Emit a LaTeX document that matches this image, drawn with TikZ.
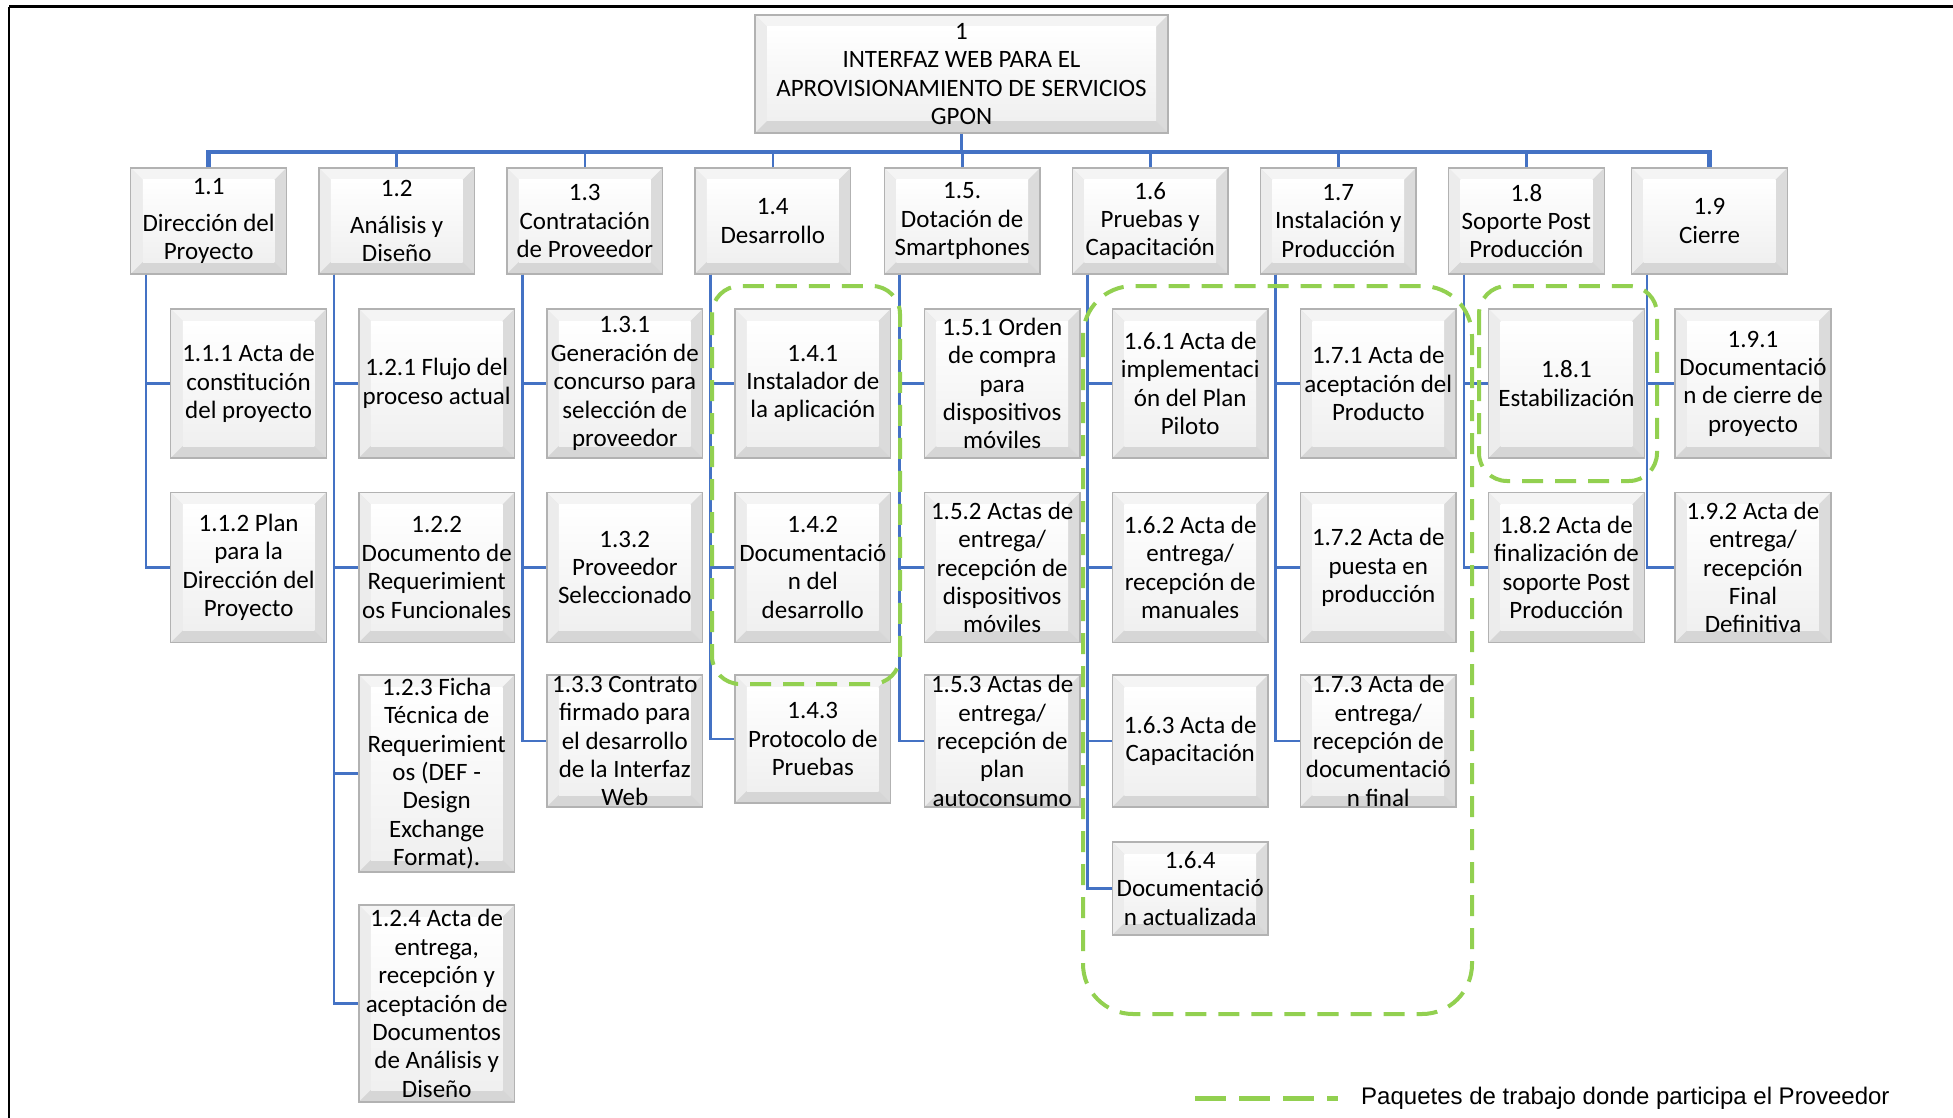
\documentclass[tikz,border=0pt]{standalone}
\usepackage{fontspec}
\setmainfont{Carlito}
\newfontfamily\legfont{Liberation Sans}
\definecolor{wbsblue}{RGB}{68,114,196}
\definecolor{wbsgreen}{RGB}{146,208,80}
\tikzset{
  wbox/.style={draw=gray!60, line width=1.4pt, fill=gray!20, inner sep=0pt, rectangle,
    path picture={
      \path (path picture bounding box.north west) coordinate (bNW)
            (path picture bounding box.north east) coordinate (bNE)
            (path picture bounding box.south east) coordinate (bSE)
            (path picture bounding box.south west) coordinate (bSW);
      \path ([shift={(12pt,-12pt)}]bNW) coordinate (iNW)
            ([shift={(-12pt,-12pt)}]bNE) coordinate (iNE)
            ([shift={(-12pt,12pt)}]bSE) coordinate (iSE)
            ([shift={(12pt,12pt)}]bSW) coordinate (iSW);
      \fill[gray!9] (bNW) -- (bNE) -- (iNE) -- (iNW) -- cycle;
      \fill[gray!15] (bNW) -- (iNW) -- (iSW) -- (bSW) -- cycle;
      \fill[gray!28] (bNE) -- (bSE) -- (iSE) -- (iNE) -- cycle;
      \fill[gray!32] (bSW) -- (iSW) -- (iSE) -- (bSE) -- cycle;
      \shade[top color=white, bottom color=gray!12] (iNW) rectangle (iSE);
    }},
  wtxt/.style={align=center, font=\fontsize{25pt}{28.4pt}\selectfont, inner sep=0pt, text=black},
  conn/.style={draw=wbsblue, line width=2.6pt},
  bus/.style={draw=wbsblue, line width=4.5pt},
  grp/.style={draw=wbsgreen, line width=4pt, dash pattern=on 21pt off 12pt},
}
\newcommand\wb[5]{\node[wbox, minimum width=#3, minimum height=#4, label={[wtxt]center:#5}] (#1) at (#2) {};}
\begin{document}
\begin{tikzpicture}[x=1pt,y=-1pt]
\useasboundingbox[fill=white] (0,0) rectangle (1953,1118);
% frame
\draw[line width=3pt] (9,7) -- (1953,7);
\draw[line width=1.3pt] (9,7) -- (9,1118);
% root
\wb{root}{961.5,74}{413pt}{118pt}{1\\INTERFAZ WEB PARA EL\\APROVISIONAMIENTO DE SERVICIOS\\GPON}
% level 1
\wb{p1}{208.6,221}{155.7pt}{106pt}{1.1\\[9pt]Dirección del\\Proyecto}
\wb{p2}{396.7,221}{155.7pt}{106pt}{1.2\\[9pt]Análisis y\\Diseño}
\wb{p3}{584.8,221}{155.7pt}{106pt}{1.3\\Contratación\\de Proveedor}
\wb{p4}{772.8,221}{155.7pt}{106pt}{1.4\\Desarrollo}
\wb{p5}{962.2,221}{155.7pt}{106pt}{1.5.\\Dotación de\\Smartphones}
\wb{p6}{1150.2,221}{155.7pt}{106pt}{1.6\\Pruebas y\\Capacitación}
\wb{p7}{1338.3,221}{155.7pt}{106pt}{1.7\\Instalación y\\Producción}
\wb{p8}{1526.4,221}{155.7pt}{106pt}{1.8\\Soporte Post\\Producción}
\wb{p9}{1709.5,221}{155.7pt}{106pt}{1.9\\Cierre}
% bus
\coordinate (busy) at (0,152);
\draw[bus] (p1.north) -- (p1.north |- busy) -- (p9.north |- busy) -- (p9.north);
\draw[conn, line width=3.4pt] (root.south) -- (root.south |- busy);
\foreach \i in {2,...,8} \draw[conn] (p\i.north) -- (p\i.north |- busy);
% level 2 : 1.1
\wb{c111}{248.6,383.5}{155.7pt}{149pt}{1.1.1 Acta de\\constitución\\del proyecto}
\wb{c112}{248.6,567.5}{155.7pt}{150pt}{1.1.2 Plan\\para la\\Dirección del\\Proyecto}
% 1.2
\wb{c121}{436.7,383.5}{155.7pt}{149pt}{1.2.1 Flujo del\\proceso actual}
\wb{c122}{436.7,567.5}{155.7pt}{150pt}{1.2.2\\Documento de\\Requerimient\\os Funcionales}
\wb{c123}{436.7,773.5}{155.7pt}{197pt}{1.2.3 Ficha\\Técnica de\\Requerimient\\os (DEF -\\Design\\Exchange\\Format).}
\wb{c124}{436.7,1003.5}{155.7pt}{197pt}{1.2.4 Acta de\\entrega,\\recepción y\\aceptación de\\Documentos\\de Análisis y\\Diseño}
% 1.3
\wb{c131}{624.8,383.5}{155.7pt}{149pt}{1.3.1\\Generación de\\concurso para\\selección de\\proveedor}
\wb{c132}{624.8,567.5}{155.7pt}{150pt}{1.3.2\\Proveedor\\Seleccionado}
\wb{c133}{624.8,741}{155.7pt}{132pt}{1.3.3 Contrato\\firmado para\\el desarrollo\\de la Interfaz\\Web}
% 1.4
\wb{c141}{812.8,383.5}{155.7pt}{149pt}{1.4.1\\Instalador de\\la aplicación}
\wb{c142}{812.8,567.5}{155.7pt}{150pt}{1.4.2\\Documentació\\n del\\desarrollo}
\wb{c143}{812.8,739}{155.7pt}{128pt}{1.4.3\\Protocolo de\\Pruebas}
% 1.5
\wb{c151}{1002.2,383.5}{155.7pt}{149pt}{1.5.1 Orden\\de compra\\para\\dispositivos\\móviles}
\wb{c152}{1002.2,567.5}{155.7pt}{150pt}{1.5.2 Actas de\\entrega/\\recepción de\\dispositivos\\móviles}
\wb{c153}{1002.2,741}{155.7pt}{132pt}{1.5.3 Actas de\\entrega/\\recepción de\\plan\\autoconsumo}
% 1.6
\wb{c161}{1190.2,383.5}{155.7pt}{149pt}{1.6.1 Acta de\\implementaci\\ón del Plan\\Piloto}
\wb{c162}{1190.2,567.5}{155.7pt}{150pt}{1.6.2 Acta de\\entrega/\\recepción de\\manuales}
\wb{c163}{1190.2,741}{155.7pt}{132pt}{1.6.3 Acta de\\Capacitación}
\wb{c164}{1190.2,888.5}{155.7pt}{93pt}{1.6.4\\Documentació\\n actualizada}
% 1.7
\wb{c171}{1378.3,383.5}{155.7pt}{149pt}{1.7.1 Acta de\\aceptación del\\Producto}
\wb{c172}{1378.3,567.5}{155.7pt}{150pt}{1.7.2 Acta de\\puesta en\\producción}
\wb{c173}{1378.3,741}{155.7pt}{132pt}{1.7.3 Acta de\\entrega/\\recepción de\\documentació\\n final}
% 1.8
\wb{c181}{1566.4,383.5}{155.7pt}{149pt}{1.8.1\\Estabilización}
\wb{c182}{1566.4,567.5}{155.7pt}{150pt}{1.8.2 Acta de\\finalización de\\soporte Post\\Producción}
% 1.9
\wb{c191}{1753,383.5}{155.7pt}{149pt}{1.9.1\\Documentació\\n de cierre de\\proyecto}
\wb{c192}{1753,567.5}{155.7pt}{150pt}{1.9.2 Acta de\\entrega/\\recepción\\Final\\Definitiva}
% connectors parent -> children
\foreach \p/\cs in {p1/{c111,c112}, p2/{c121,c122,c123,c124}, p3/{c131,c132,c133},
                    p4/{c141,c142,c143}, p5/{c151,c152,c153}, p6/{c161,c162,c163,c164},
                    p7/{c171,c172,c173}, p8/{c181,c182}, p9/{c191,c192}}
  \foreach \c in \cs
    \draw[conn] ([xshift=16pt]\p.south west) |- (\c.west);
% provider groups
\draw[grp, rounded corners=28pt] (712,286) rectangle (900,684);
\draw[grp, rounded corners=50pt] (1083,286) rectangle (1472,1014);
\draw[grp, rounded corners=28pt] (1479,286) rectangle (1657,481);
% legend
\node[anchor=west, inner sep=0pt, font=\legfont\fontsize{24pt}{28pt}\selectfont] (legtext) at (1361,1098) {Paquetes de trabajo donde participa el Proveedor};
\coordinate (legA) at (1195,1098);
\draw[draw=wbsgreen, line width=5pt, dash pattern=on 31pt off 13pt] (legA) -- ([xshift=-23pt]legtext.west);
\end{tikzpicture}
\end{document}
